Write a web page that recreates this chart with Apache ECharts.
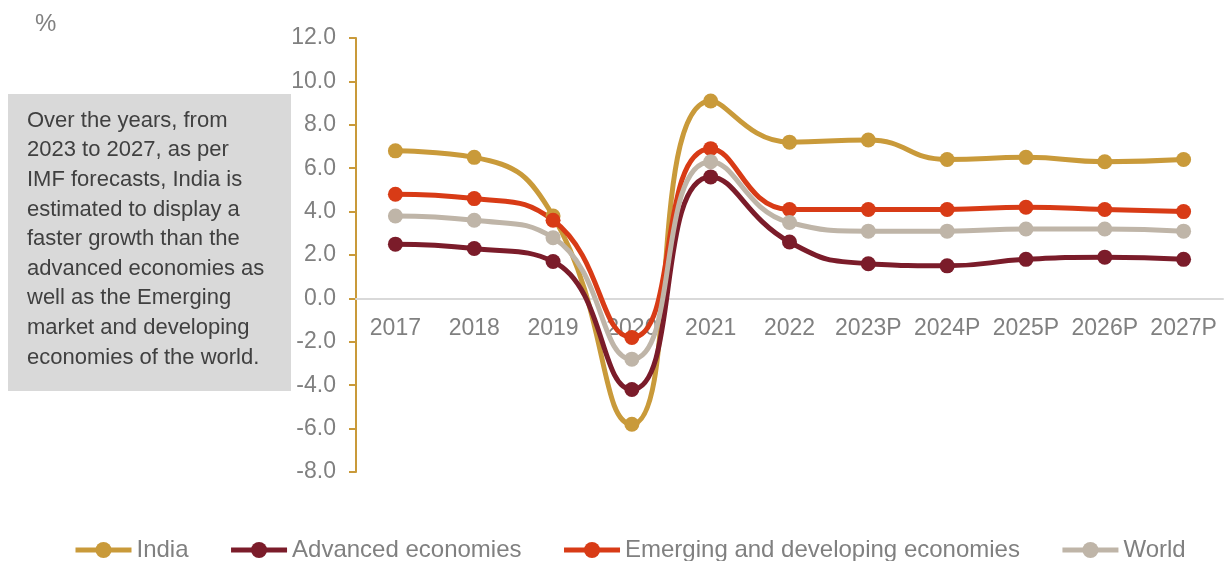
<!DOCTYPE html>
<html>
<head>
<meta charset="utf-8">
<script src="https://cdn.jsdelivr.net/npm/echarts@6/dist/echarts.min.js"></script>
<style>
  html,body{margin:0;padding:0;background:#fff;}
  #chart{width:1226px;height:561px;}
</style>
</head>
<body>
<div id="chart"></div>
<script>
// categories and series values
var years = ['2017','2018','2019','2020','2021','2022','2023P','2024P','2025P','2026P','2027P'];
var india = [6.8, 6.5, 3.8, -5.8, 9.1, 7.2, 7.3, 6.4, 6.5, 6.3, 6.4];
var advanced = [2.5, 2.3, 1.7, -4.2, 5.6, 2.6, 1.6, 1.5, 1.8, 1.9, 1.8];
var emerging = [4.8, 4.6, 3.6, -1.8, 6.9, 4.1, 4.1, 4.1, 4.2, 4.1, 4.0];
var world = [3.8, 3.6, 2.8, -2.8, 6.3, 3.5, 3.1, 3.1, 3.2, 3.2, 3.1];

var noteLines = [
  'Over the years, from',
  '2023 to 2027, as per',
  'IMF forecasts, India is',
  'estimated to display a',
  'faster growth than the',
  'advanced economies as',
  'well as the Emerging',
  'market and developing',
  'economies of the world.'
];

var font = '"Liberation Sans", Arial, sans-serif';

function mkSeries(name, data, color){
  return {
    name: name,
    type: 'line',
    data: data,
    smooth: 0.5,
    symbol: 'circle',
    symbolSize: 15,
    lineStyle: {color: color, width: 5},
    itemStyle: {color: color},
    z: 3
  };
}

// grid: top 38, bottom edge 472 -> zero line sits at 12/20 of the height
var gridTop = 38, gridBottom = 89, plotH = 561 - gridTop - gridBottom;
var zeroOffset = -(plotH * 8 / 20);

var chart = echarts.init(document.getElementById('chart'));
chart.setOption({
  animation: false,
  textStyle: {fontFamily: font},
  grid: {left: 356, right: 3, top: gridTop, bottom: gridBottom, containLabel: false},
  xAxis: {
    type: 'category',
    data: years,
    boundaryGap: true,
    position: 'bottom',
    offset: zeroOffset,
    axisLine: {onZero: false, lineStyle: {color: '#d9d9d9', width: 2}},
    axisTick: {show: false},
    axisLabel: {color: '#808080', fontSize: 23, margin: 19, fontFamily: font, interval: 0},
    z: 1
  },
  yAxis: {
    type: 'value',
    min: -8, max: 12, interval: 2,
    axisLine: {show: true, lineStyle: {color: '#c99a3a', width: 2}},
    axisTick: {show: true, inside: false, length: 7, lineStyle: {color: '#c99a3a', width: 2}},
    splitLine: {show: false},
    axisLabel: {color: '#808080', fontSize: 23, margin: 20, fontFamily: font,
      formatter: function(v){ return v.toFixed(1); }}
  },
  legend: {
    bottom: -6,
    left: 68,
    itemWidth: 56,
    itemHeight: 20,
    itemGap: 40,
    lineStyle: {width: 5},
    textStyle: {color: '#808080', fontSize: 24, fontFamily: font},
    data: ['India','Advanced economies','Emerging and developing economies','World']
  },
  graphic: [
    {type: 'text', left: 35, top: 12, style: {text: '%', fill: '#808080', font: '24px ' + font}},
    {type: 'rect', shape: {x: 8, y: 94, width: 283, height: 297}, style: {fill: '#d9d9d9'}, z: 10},
    {type: 'text', x: 27, y: 106, z: 11,
      style: {text: noteLines.join('\n'), fill: '#404040', font: '22px ' + font, lineHeight: 29.6}}
  ],
  series: [
    mkSeries('India', india, '#c99a3a'),
    mkSeries('Advanced economies', advanced, '#7b1c2a'),
    mkSeries('Emerging and developing economies', emerging, '#d83b16'),
    mkSeries('World', world, '#bfb5a8')
  ]
});
</script>
</body>
</html>
